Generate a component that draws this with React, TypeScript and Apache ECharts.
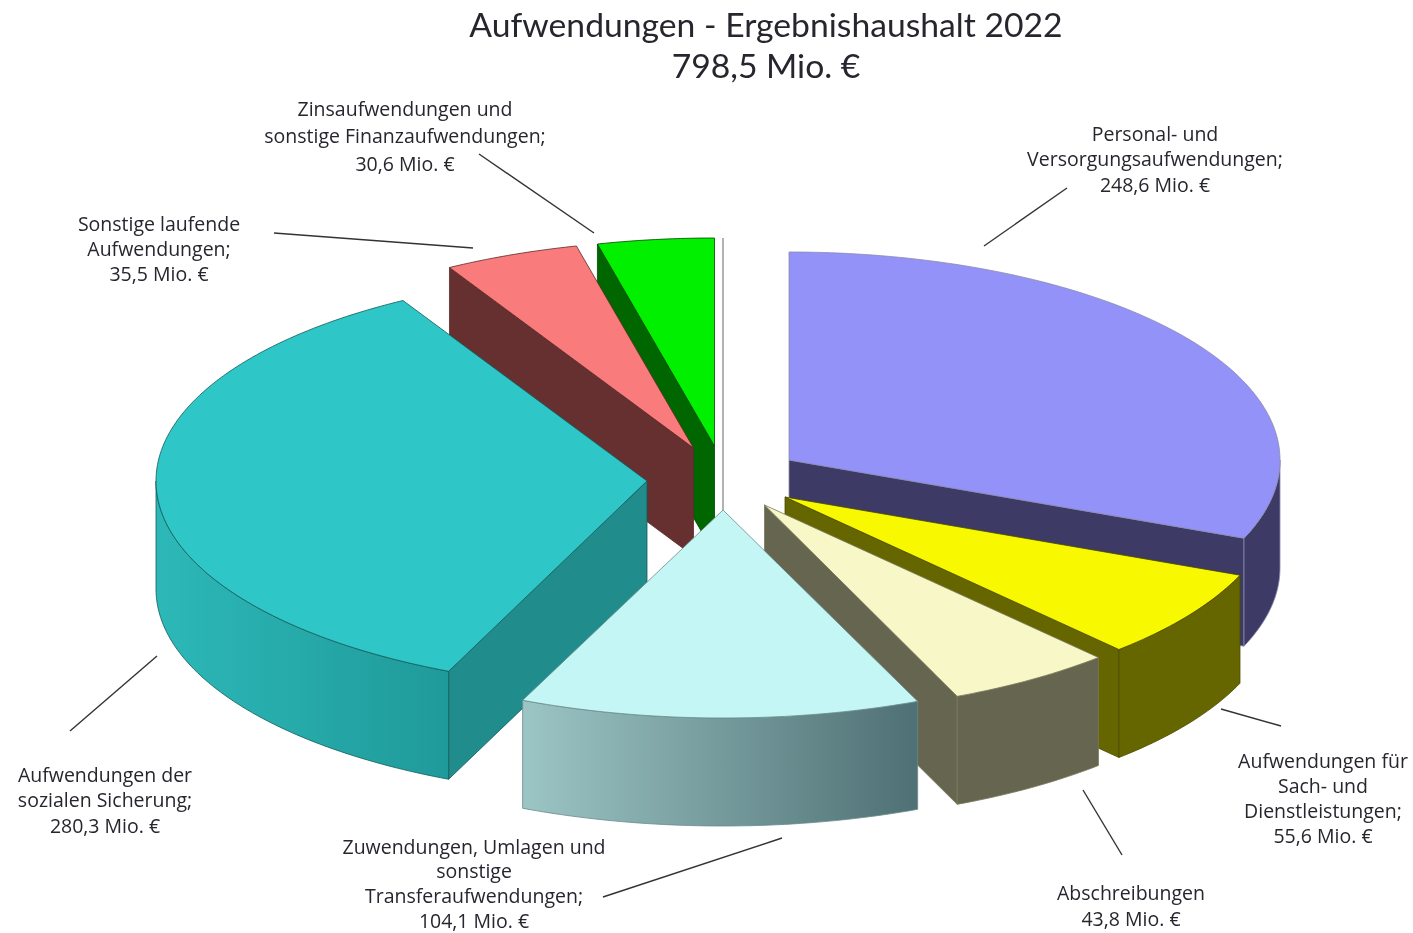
import React, { useEffect, useRef } from "react";
import * as echarts from "echarts";

// Data, clockwise from 12 o'clock
const categories = [
  "Personal- und\nVersorgungsaufwendungen;",
  "Aufwendungen für\nSach- und\nDienstleistungen;",
  "Abschreibungen",
  "Zuwendungen, Umlagen und\nsonstige\nTransferaufwendungen;",
  "Aufwendungen der\nsozialen Sicherung;",
  "Sonstige laufende\nAufwendungen;",
  "Zinsaufwendungen und\nsonstige Finanzaufwendungen;",
];
const values = [248.6, 55.6, 43.8, 104.1, 280.3, 35.5, 30.6];
const valueLabels = ["248,6", "55,6", "43,8", "104,1", "280,3", "35,5", "30,6"];
const titleLines = ["Aufwendungen - Ergebnishaushalt 2022", "798,5 Mio. €"];

// Styling and layout (kept apart from the data)
const topColors = ["#9292F8", "#F8F800", "#F7F7C8", "#C3F6F5", "#2EC6C6", "#FA7B7B", "#00F000"];
const edgeColors = ["#3D3B66", "#666600", "#666650", "#5A8084", "#218C8C", "#663030", "#006600"];
const outerGradients: (string[] | null)[] = [
  null,
  null,
  null,
  ["#9CC5C5", "#4F7074"],
  ["#2DB8B8", "#1F9A9A"],
  null,
  null,
];
const strokes = ["#8a8ab0", "#4a4a00", "#77775a", "#6a8a8a", "#145c5c", "#5a2a2a", "#004400"];
const apexes = [
  [789, 460],
  [785, 497],
  [764.5, 505],
  [723, 510],
  [647, 481],
  [693.5, 448],
  [714.5, 446],
];
const radiiX = [491, 491, 491, 496, 491, 491, 491];
const RY = 208;
const DEPTH = 108;
const drawOrder = [6, 5, 0, 1, 2, 4, 3];
const labelPos = [
  { x: 1155, y: 133, lh: 25.5 },
  { x: 1323, y: 760, lh: 25.3 },
  { x: 1131, y: 892, lh: 26 },
  { x: 474, y: 846, lh: 24.8 },
  { x: 105, y: 774, lh: 25.5 },
  { x: 159, y: 223, lh: 25 },
  { x: 405, y: 108, lh: 27.5 },
];
const leaders = [
  [984, 246, 1067, 188],
  [1221, 709, 1281, 726],
  [1083, 790, 1122, 855],
  [782, 838, 603, 897],
  [157, 656, 70, 731],
  [274, 233, 473, 248],
  [479, 154, 594, 233],
];
const TEXT_COLOR = "#26262e";
const TITLE_FONT = "Lato";
const LABEL_FONT = "Open Sans";

const total = values.reduce((a, b) => a + b, 0);
const rad = (d: number) => (d * Math.PI) / 180;

function rimPoint(cx: number, cy: number, rx: number, deg: number): number[] {
  return [cx + rx * Math.sin(rad(deg)), cy - RY * Math.cos(rad(deg))];
}

function arcPoints(cx: number, cy: number, rx: number, a: number, b: number): number[][] {
  const n = Math.max(2, Math.ceil(Math.abs(b - a)));
  const pts: number[][] = [];
  for (let i = 0; i <= n; i++) pts.push(rimPoint(cx, cy, rx, a + ((b - a) * i) / n));
  return pts;
}

function renderSlice(_params: any, api: any) {
  const idx = api.value(0) as number;
  let acc = 0;
  for (let i = 0; i < idx; i++) acc += values[i];
  const a = (acc / total) * 360;
  const b = ((acc + api.value(1)) / total) * 360;
  const [cx, cy] = apexes[idx];
  const rx = radiiX[idx];
  const children: any[] = [];
  const stroke = strokes[idx];
  const sideStyle = { fill: edgeColors[idx], stroke, lineWidth: 0.8 };

  const radialWall = (deg: number) => {
    const p = rimPoint(cx, cy, rx, deg);
    children.push({
      type: "polygon",
      shape: { points: [[cx, cy], p, [p[0], p[1] + DEPTH], [cx, cy + DEPTH]] },
      style: sideStyle,
    });
  };
  if (Math.sin(rad(b)) > 0.001) radialWall(b);
  if (Math.sin(rad(a)) < -0.001) radialWall(a);

  const o0 = Math.max(a, 90);
  const o1 = Math.min(b, 270);
  if (o1 > o0) {
    const rim = arcPoints(cx, cy, rx, o0, o1);
    const lower = rim.map((p) => [p[0], p[1] + DEPTH]).reverse();
    const grad = outerGradients[idx];
    children.push({
      type: "polygon",
      shape: { points: [...rim, ...lower] },
      style: {
        fill: grad
          ? new echarts.graphic.LinearGradient(0, 0, 1, 0, [
              { offset: 0, color: grad[0] },
              { offset: 1, color: grad[1] },
            ])
          : edgeColors[idx],
        stroke,
        lineWidth: 0.8,
      },
    });
  }

  children.push({
    type: "polygon",
    shape: { points: [[cx, cy], ...arcPoints(cx, cy, rx, a, b)] },
    style: { fill: topColors[idx], stroke, lineWidth: 0.8 },
  });
  return { type: "group", children };
}

export default function App() {
  const ref = useRef<HTMLDivElement>(null);
  useEffect(() => {
    const chart = echarts.init(ref.current!, null, { renderer: "svg" });
    const labelEls = categories.flatMap((name, i) =>
      `${name}\n${valueLabels[i]} Mio. €`.split("\n").map((line, k) => ({
        type: "text",
        x: labelPos[i].x,
        y: labelPos[i].y + k * labelPos[i].lh,
        silent: true,
        style: {
          text: line,
          fontFamily: LABEL_FONT,
          fontSize: 19.5,
          fill: TEXT_COLOR,
          align: "center",
          verticalAlign: "middle",
        },
      }))
    );
    const leaderEls = leaders.map((l) => ({
      type: "line",
      silent: true,
      shape: { x1: l[0], y1: l[1], x2: l[2], y2: l[3] },
      style: { stroke: "#333", lineWidth: 1.4 },
    }));
    chart.setOption({
      animation: false,
      backgroundColor: "#ffffff",
      title: {
        text: titleLines.join("\n"),
        left: 761,
        top: -2,
        textAlign: "center",
        textStyle: {
          fontFamily: TITLE_FONT,
          fontWeight: "normal",
          fontSize: 33.7,
          lineHeight: 41,
          color: TEXT_COLOR,
        },
      },
      graphic: [
        {
          type: "line",
          silent: true,
          shape: { x1: 723, y1: 238, x2: 723, y2: 510 },
          style: { stroke: "#aaaaaa", lineWidth: 1.8 },
        },
        ...leaderEls,
        ...labelEls,
      ],
      series: [
        {
          type: "custom",
          coordinateSystem: "none",
          silent: true,
          renderItem: renderSlice,
          data: drawOrder.map((i) => [i, values[i]]),
        },
      ],
    });
    return () => chart.dispose();
  }, []);
  return (
    <div
      ref={ref}
      style={{ position: "fixed", left: 0, top: 0, width: 1413, height: 933, filter: "blur(0.4px)" }}
    />
  );
}
